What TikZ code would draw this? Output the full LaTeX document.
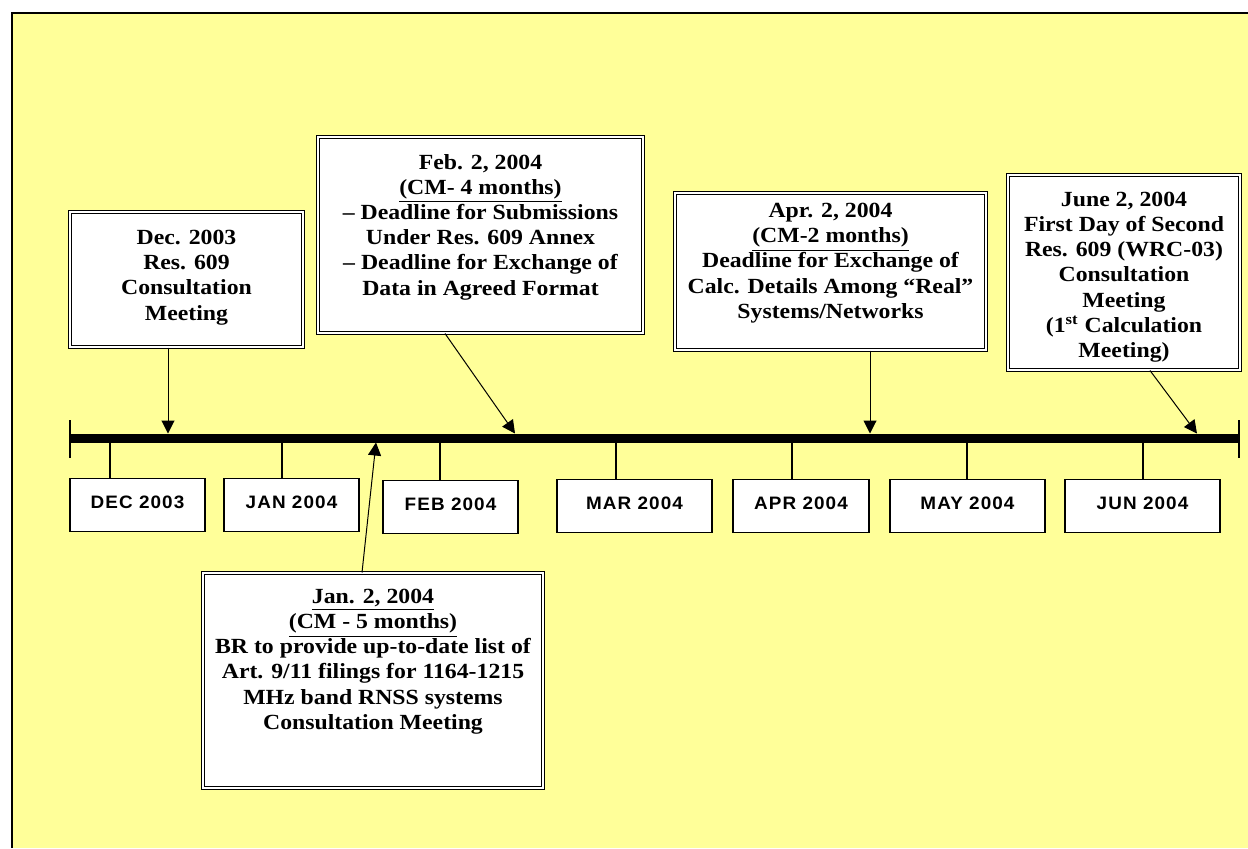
\documentclass[tikz,border=0pt]{standalone}
\usepackage{fontspec}
\setmainfont[FakeStretch=1.1]{Liberation Serif}
\newfontfamily\monthfont[LetterSpace=6, FakeStretch=1.05]{Liberation Sans}
\usetikzlibrary{arrows.meta, calc}
\definecolor{paper}{HTML}{FFFF99}

\begin{document}
\begin{tikzpicture}[x=0.5pt, y=-0.5pt,
	evbox/.style={draw, fill=white, line width=0.5pt, double, double distance=1pt, inner sep=0pt},
	evtext/.style={align=center, inner sep=0pt, font=\bfseries\fontsize{10.8}{12.6}\selectfont},
	monthbox/.style={draw, fill=white, line width=0.6pt, minimum height=26.5pt, inner sep=0pt, text height=6.5pt, text depth=3.5pt, font=\monthfont\bfseries\fontsize{9}{10}\selectfont},
	pin/.style={line width=0.5pt, -{Triangle[width=6.5pt,length=6.5pt]}},
	monthtick/.style={line width=0.6pt}]
	\def\Top{433.5}
	\def\Bot{442.5}

	\useasboundingbox (0,0) rectangle (1248,848);
	\fill[paper] (12,13) rectangle (1248,848);
	\draw[line width=1pt] (12,848) -- (12,13) -- (1248,13);

	% time line
	\draw[line width=4.5pt] (70,438) -- (1239,438);
	\draw[monthtick] (70,420) -- (70,458);
	\draw[monthtick] (1239,420) -- (1239,458);

	% months
	\node[monthbox, minimum width=67.5pt] (mdec) at (137.5,505) {DEC 2003};
	\node[monthbox, minimum width=67.5pt] (mjan) at (291.5,505) {JAN 2004};
	\node[monthbox, minimum width=67.5pt] (mfeb) at (450.5,507) {FEB 2004};
	\node[monthbox, minimum width=77.5pt] (mmar) at (634.5,506) {MAR 2004};
	\node[monthbox, minimum width=68pt]   (mapr) at (801,506)   {APR 2004};
	\node[monthbox, minimum width=77.5pt] (mmay) at (967.5,506) {MAY 2004};
	\node[monthbox, minimum width=77.5pt] (mjun) at (1142.5,506) {JUN 2004};

	\foreach \m/\x in {mdec/110, mjan/282, mfeb/440, mmar/616, mapr/792, mmay/967, mjun/1143}
		\draw[monthtick] (\x,\Bot) coordinate (t) -- (t |- \m.north);

	% events
	\node[evbox, minimum width=116.5pt, minimum height=67.5pt] (edec) at (186.5,279.5) {};
	\node[evtext] (tdec) at (186.5,277.5) {Dec. 2003\\Res. 609\\Consultation\\Meeting};

	\node[evbox, minimum width=162.5pt, minimum height=98pt] (efeb) at (480.5,235) {};
	\node[evtext] (tfeb) at (480.5,227) {Feb. 2, 2004\\\underline{(CM- 4 months)}\\-- Deadline for Submissions\\Under Res. 609 Annex\\-- Deadline for Exchange of\\Data in Agreed Format};

	\node[evbox, minimum width=155.5pt, minimum height=78.5pt] (eapr) at (830.5,271.5) {};
	\node[evtext] (tapr) at (830.5,263) {Apr. 2, 2004\\\underline{(CM-2 months)}\\Deadline for Exchange of\\Calc. Details Among “Real”\\Systems/Networks};

	\node[evbox, minimum width=116pt, minimum height=97.5pt] (ejun) at (1124,272.5) {};
	\node[evtext] (tjun) at (1124,277) {June 2, 2004\\First Day of Second\\Res. 609 (WRC-03)\\Consultation\\Meeting\\(1\textsuperscript{st} Calculation\\Meeting)};

	\node[evbox, minimum width=170pt, minimum height=107.5pt] (ejan) at (373,680.5) {};
	\node[evtext] (tjan) at (373,661.5) {\underline{Jan. 2, 2004}\\\underline{(CM - 5 months)}\\BR to provide up-to-date list of\\Art. 9/11 filings for 1164-1215\\MHz band RNSS systems\\Consultation Meeting};

	% pointers to the time line
	\coordinate (pdec) at (168,\Top);
	\coordinate (pfeb) at (515,\Top);
	\coordinate (papr) at (870,\Top);
	\coordinate (pjun) at (1197,\Top);
	\coordinate (pjan) at (376,\Bot);

	\draw[pin] (edec.south -| pdec) -- (pdec);
	\draw[pin] ($(efeb.south)+(-35.5,0)$) -- (pfeb);
	\draw[pin] (eapr.south -| papr) -- (papr);
	\draw[pin] ($(ejun.south)+(26,0)$) -- (pjun);
	\draw[pin] ($(ejan.north)+(-11,0)$) -- (pjan);
\end{tikzpicture}
\end{document}
